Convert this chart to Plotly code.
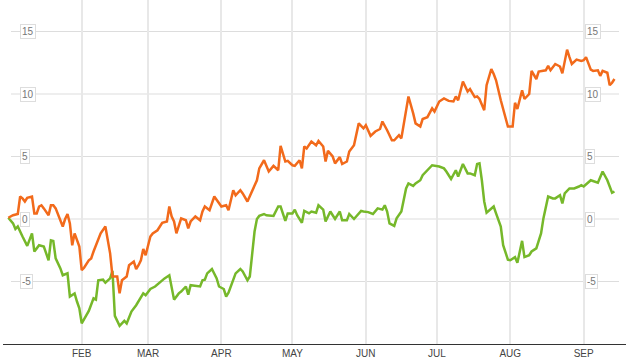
import plotly.graph_objects as go

orange_dates = [
    "2013-01-01", "2013-01-03", "2013-01-05", "2013-01-06", "2013-01-07", "2013-01-08", "2013-01-09",
    "2013-01-11", "2013-01-12", "2013-01-13", "2013-01-14", "2013-01-15", "2013-01-16", "2013-01-18",
    "2013-01-19", "2013-01-20", "2013-01-21", "2013-01-24", "2013-01-25", "2013-01-26", "2013-01-27",
    "2013-01-28", "2013-01-29", "2013-01-30", "2013-01-31", "2013-02-01", "2013-02-02", "2013-02-04",
    "2013-02-05", "2013-02-06", "2013-02-07", "2013-02-09", "2013-02-11", "2013-02-13", "2013-02-14",
    "2013-02-16", "2013-02-17", "2013-02-18", "2013-02-20", "2013-02-21", "2013-02-23", "2013-02-24",
    "2013-02-25", "2013-02-26", "2013-02-27", "2013-02-28", "2013-03-02", "2013-03-03", "2013-03-05",
    "2013-03-06", "2013-03-07", "2013-03-09", "2013-03-10", "2013-03-11", "2013-03-12", "2013-03-13",
    "2013-03-15", "2013-03-17", "2013-03-18", "2013-03-19", "2013-03-21", "2013-03-23", "2013-03-24",
    "2013-03-25", "2013-03-27", "2013-03-29", "2013-03-31", "2013-04-01", "2013-04-03", "2013-04-04",
    "2013-04-06", "2013-04-07", "2013-04-09", "2013-04-10", "2013-04-12", "2013-04-13", "2013-04-14",
    "2013-04-16", "2013-04-17", "2013-04-19", "2013-04-21", "2013-04-23", "2013-04-25", "2013-04-26",
    "2013-04-28", "2013-04-29", "2013-05-01", "2013-05-02", "2013-05-04", "2013-05-05", "2013-05-06",
    "2013-05-07", "2013-05-09", "2013-05-11", "2013-05-12", "2013-05-14", "2013-05-15", "2013-05-16",
    "2013-05-18", "2013-05-19", "2013-05-21", "2013-05-22", "2013-05-24", "2013-05-25", "2013-05-27",
    "2013-05-28", "2013-05-29", "2013-05-31", "2013-06-01", "2013-06-03", "2013-06-05", "2013-06-07",
    "2013-06-08", "2013-06-10", "2013-06-12", "2013-06-13", "2013-06-15", "2013-06-16", "2013-06-19",
    "2013-06-21", "2013-06-22", "2013-06-24", "2013-06-25", "2013-06-27", "2013-06-29", "2013-06-30",
    "2013-07-02", "2013-07-04", "2013-07-06", "2013-07-08", "2013-07-09", "2013-07-10", "2013-07-12",
    "2013-07-14", "2013-07-15", "2013-07-17", "2013-07-18", "2013-07-19", "2013-07-21", "2013-07-22",
    "2013-07-24", "2013-07-25", "2013-07-26", "2013-07-28", "2013-07-31", "2013-08-02", "2013-08-03",
    "2013-08-04", "2013-08-06", "2013-08-07", "2013-08-09", "2013-08-10", "2013-08-12", "2013-08-13",
    "2013-08-14", "2013-08-16", "2013-08-17", "2013-08-18", "2013-08-20", "2013-08-22", "2013-08-23",
    "2013-08-25", "2013-08-26", "2013-08-27", "2013-08-29", "2013-08-31", "2013-09-01", "2013-09-02",
    "2013-09-04", "2013-09-05", "2013-09-07", "2013-09-08", "2013-09-09", "2013-09-11", "2013-09-12",
    "2013-09-13", "2013-09-14",
]
orange_values = [
    0.1, 0.3, 0.4, 1.8, 1.65, 1.4, 1.7,
    1.8, 0.45, 0.45, 1.0, 1.1, 0.85, 0.3,
    1.1, 1.1, 0.85, -0.6, 0.0, 0.4, -0.35,
    -2.1, -1.15, -1.7, -2.2, -4.1, -3.9, -3.3,
    -3.15, -2.6, -2.1, -1.15, -0.6, -2.75, -4.6,
    -4.6, -5.95, -4.9, -4.6, -3.7, -3.4, -4.0,
    -3.7, -3.3, -2.4, -2.9, -1.4, -1.15, -0.9,
    -0.55, -0.3, -0.2, 1.0, 0.2, -0.2, -1.15,
    0.05, -0.1, -0.75, -0.2, 0.2, -0.1, 0.6,
    1.0, 0.7, 1.8, 1.25, 1.0, 1.1, 0.7,
    2.3, 1.9, 2.3, 2.05, 1.4, 1.8, 2.3,
    3.1, 4.05, 4.7, 3.8, 4.25, 3.9, 5.85,
    4.6, 4.65, 4.3, 4.25, 4.7, 4.05, 5.8,
    5.65, 6.2, 5.9, 6.25, 5.8, 4.6, 5.45,
    5.0, 4.45, 4.95, 4.4, 4.6, 5.4, 5.9,
    6.7, 7.65, 7.25, 7.5, 6.65, 7.0, 7.2,
    7.8, 7.1, 6.3, 6.3, 6.7, 6.45, 9.8,
    8.45, 7.65, 7.4, 8.0, 8.15, 8.85, 8.6,
    9.4, 9.65, 9.45, 9.4, 9.8, 9.5, 11.0,
    10.2, 10.4, 9.75, 9.8, 9.6, 8.7, 10.7,
    12.0, 11.6, 11.1, 9.5, 7.4, 7.4, 9.3,
    8.8, 10.3, 9.6, 10.0, 11.85, 11.2, 11.8,
    11.85, 11.9, 12.25, 11.9, 12.4, 12.2, 11.65,
    13.55, 12.95, 12.4, 12.75, 12.65, 12.7, 12.95,
    11.95, 11.85, 11.9, 11.45, 11.85, 11.7, 10.7,
    10.9, 11.2,
]

green_dates = [
    "2013-01-01", "2013-01-03", "2013-01-04", "2013-01-05", "2013-01-07", "2013-01-09", "2013-01-11",
    "2013-01-12", "2013-01-13", "2013-01-14", "2013-01-16", "2013-01-18", "2013-01-19", "2013-01-20",
    "2013-01-21", "2013-01-23", "2013-01-24", "2013-01-26", "2013-01-27", "2013-01-29", "2013-01-30",
    "2013-01-31", "2013-02-01", "2013-02-03", "2013-02-04", "2013-02-06", "2013-02-07", "2013-02-08",
    "2013-02-10", "2013-02-11", "2013-02-13", "2013-02-14", "2013-02-15", "2013-02-17", "2013-02-19",
    "2013-02-20", "2013-02-22", "2013-02-24", "2013-02-25", "2013-02-27", "2013-02-28", "2013-03-02",
    "2013-03-04", "2013-03-06", "2013-03-08", "2013-03-10", "2013-03-11", "2013-03-12", "2013-03-14",
    "2013-03-15", "2013-03-17", "2013-03-18", "2013-03-19", "2013-03-21", "2013-03-23", "2013-03-24",
    "2013-03-25", "2013-03-26", "2013-03-28", "2013-03-30", "2013-03-31", "2013-04-02", "2013-04-03",
    "2013-04-04", "2013-04-06", "2013-04-07", "2013-04-09", "2013-04-10", "2013-04-12", "2013-04-13",
    "2013-04-15", "2013-04-16", "2013-04-17", "2013-04-19", "2013-04-20", "2013-04-22", "2013-04-23",
    "2013-04-25", "2013-04-26", "2013-04-28", "2013-04-29", "2013-05-01", "2013-05-02", "2013-05-03",
    "2013-05-05", "2013-05-06", "2013-05-08", "2013-05-09", "2013-05-11", "2013-05-12", "2013-05-14",
    "2013-05-15", "2013-05-17", "2013-05-18", "2013-05-19", "2013-05-21", "2013-05-22", "2013-05-24",
    "2013-05-25", "2013-05-27", "2013-05-28", "2013-05-30", "2013-05-31", "2013-06-02", "2013-06-04",
    "2013-06-06", "2013-06-08", "2013-06-09", "2013-06-10", "2013-06-11", "2013-06-13", "2013-06-14",
    "2013-06-16", "2013-06-18", "2013-06-19", "2013-06-21", "2013-06-22", "2013-06-24", "2013-06-25",
    "2013-06-27", "2013-06-29", "2013-07-02", "2013-07-04", "2013-07-05", "2013-07-07", "2013-07-09",
    "2013-07-10", "2013-07-12", "2013-07-14", "2013-07-15", "2013-07-17", "2013-07-18", "2013-07-19",
    "2013-07-20", "2013-07-21", "2013-07-22", "2013-07-24", "2013-07-25", "2013-07-26", "2013-07-28",
    "2013-07-29", "2013-07-31", "2013-08-01", "2013-08-03", "2013-08-04", "2013-08-06", "2013-08-07",
    "2013-08-09", "2013-08-10", "2013-08-12", "2013-08-14", "2013-08-15", "2013-08-17", "2013-08-19",
    "2013-08-20", "2013-08-22", "2013-08-23", "2013-08-24", "2013-08-26", "2013-08-28", "2013-08-30",
    "2013-08-31", "2013-09-01", "2013-09-03", "2013-09-04", "2013-09-07", "2013-09-09", "2013-09-11",
    "2013-09-13", "2013-09-14",
]
green_values = [
    0.1, -0.35, -0.8, -0.6, -1.4, -2.15, -1.15,
    -2.6, -2.35, -2.1, -2.2, -3.3, -1.7, -1.75,
    -3.15, -3.95, -4.5, -4.35, -6.2, -5.95, -6.6,
    -7.15, -8.35, -7.7, -7.35, -6.35, -6.45, -4.9,
    -4.85, -5.1, -4.75, -4.15, -7.75, -8.55, -8.15,
    -8.35, -7.4, -6.9, -6.6, -5.95, -6.1, -5.6,
    -5.4, -5.05, -4.75, -4.5, -5.4, -6.45, -5.95,
    -5.8, -5.4, -6.05, -5.3, -5.35, -5.4, -4.9,
    -4.85, -4.35, -4.0, -4.75, -5.4, -5.6, -6.2,
    -5.9, -4.9, -4.35, -4.0, -4.2, -4.9, -4.6,
    -1.0, 0.0, 0.25, 0.4, 0.3, 0.3, 0.25,
    1.0, 1.0, -0.15, 0.45, 0.45, 0.75, 0.3,
    -0.3, 0.65, 0.45, 0.6, 0.5, 1.1, 0.75,
    -0.2, 0.6, 0.3, 0.0, 0.6, -0.1, -0.1,
    0.4, 0.0, 0.2, 0.65, 0.6, 0.55, 0.4,
    0.85, 0.75, 1.1, 0.6, -0.35, -0.55, 0.05,
    0.6, 2.45, 2.85, 2.65, 2.85, 3.1, 3.5,
    3.9, 4.3, 4.2, 4.05, 3.8, 3.2, 3.9,
    3.4, 4.4, 3.65, 3.65, 3.5, 4.4, 4.45,
    3.1, 1.4, 0.5, 0.85, 1.0, 0.45, -0.6,
    -2.1, -3.25, -3.3, -3.05, -3.5, -1.75, -3.05,
    -2.9, -2.6, -2.35, -1.15, 0.05, 1.8, 1.65,
    1.65, 1.9, 1.25, 2.05, 2.45, 2.45, 2.6,
    2.7, 2.6, 2.9, 3.1, 2.9, 3.8, 3.1,
    2.1, 2.2,
]

month_ticks = ["2013-02-01", "2013-03-01", "2013-04-01", "2013-05-01",
               "2013-06-01", "2013-07-01", "2013-08-01", "2013-09-01"]
month_labels = ["FEB", "MAR", "APR", "MAY", "JUN", "JUL", "AUG", "SEP"]
y_ticks = [15, 10, 5, 0, -5]

ORANGE = "#F26A1B"
GREEN = "#76B82A"

fig = go.Figure()
fig.add_trace(go.Scatter(x=green_dates, y=green_values, mode="lines",
                         line=dict(color=GREEN, width=2.5), hoverinfo="skip"))
fig.add_trace(go.Scatter(x=orange_dates, y=orange_values, mode="lines",
                         line=dict(color=ORANGE, width=2.5), hoverinfo="skip"))

L, R = 3, 626
W = R - L
gx0 = (11 - L) / W
gx1 = (619 - L) / W

shapes = []
for v in y_ticks:
    shapes.append(dict(type="line", xref="paper", yref="y", x0=gx0, x1=gx1, y0=v, y1=v,
                       line=dict(color="#dddddd", width=1), layer="below"))

annotations = []
for v in y_ticks:
    for xpos in [(20 - L) / W, (585 - L) / W]:
        annotations.append(dict(
            x=xpos, xref="paper", y=v, yref="y", text=str(v), showarrow=False,
            xanchor="left", yanchor="middle",
            font=dict(family="Liberation Sans, Arial, sans-serif", size=10, color="#777777"),
            bgcolor="white", bordercolor="#dddddd", borderwidth=1, borderpad=1,
        ))

fig.update_layout(
    width=632, height=360,
    margin=dict(l=L, r=632 - R, t=0, b=16),
    paper_bgcolor="white", plot_bgcolor="white",
    showlegend=False,
    hovermode=False,
    shapes=shapes,
    annotations=annotations,
    xaxis=dict(
        type="date",
        range=["2012-12-29 18:14", "2013-09-18 21:07"],
        tickvals=month_ticks, ticktext=month_labels,
        showgrid=True, gridcolor="#e8e8e8", gridwidth=2,
        showline=True, linecolor="#333333", linewidth=1,
        ticks="", zeroline=False,
        tickfont=dict(family="Liberation Sans, Arial, sans-serif", size=10, color="#444444"),
    ),
    yaxis=dict(
        range=[-10, 17.52],
        showgrid=False, zeroline=False, showticklabels=False, showline=False, ticks="",
    ),
)

fig.write_html(
    "out.html",
    config={"displayModeBar": False, "staticPlot": True},
    post_script="document.body.style.margin='0';document.body.style.overflow='hidden';",
)
